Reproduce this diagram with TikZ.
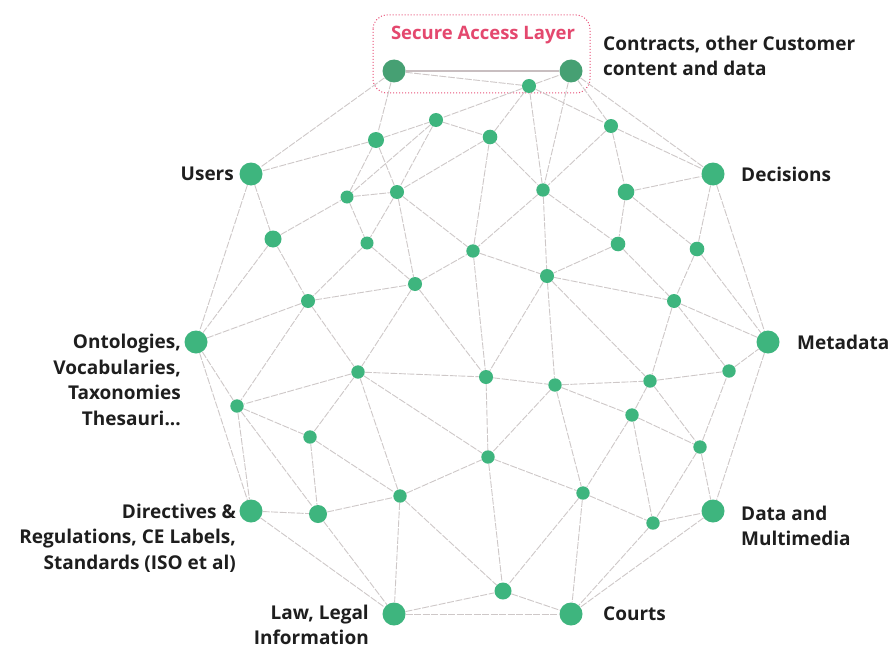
\documentclass[tikz,border=0pt]{standalone}
\usepackage{fontspec}
\setmainfont{Open Sans}
\definecolor{dotgreen}{RGB}{62,181,126}
\definecolor{salgreen}{RGB}{70,160,115}
\definecolor{edgegray}{RGB}{206,200,200}
\definecolor{solidgray}{RGB}{200,190,192}
\definecolor{boxpink}{RGB}{232,80,120}
\definecolor{salpink}{RGB}{228,72,110}
\definecolor{lbltext}{RGB}{30,30,30}
\begin{document}
\begin{tikzpicture}[x=1pt,y=-1pt,
  dot/.style={circle,fill=dotgreen,draw=none,inner sep=0pt},
  saldot/.style={circle,fill=salgreen,draw=none,inner sep=0pt},
  edge/.style={draw=edgegray,line width=0.9pt,dash pattern=on 7pt off 1.5pt},
  solidedge/.style={draw=solidgray,line width=1.4pt},
  lbl/.style={font=\fontsize{19}{25.5}\selectfont\bfseries,text=lbltext,inner sep=0pt}
]
\useasboundingbox[fill=white] (0,0) rectangle (893,650);
% Secure access layer box
\draw[draw=boxpink,line width=1pt,dotted,rounded corners=14pt] (373,15) rectangle (590,93);
\node[font=\fontsize{18.5}{21}\selectfont\bfseries,text=salpink,inner sep=0pt] (sal) at (483,35) {Secure Access Layer};
% big nodes
\node[saldot,minimum size=23pt] (S1) at (394,71) {};
\node[saldot,minimum size=23pt] (S2) at (571,71) {};
\foreach \n/\x/\y in {Dec/713/174,Meta/768/342,DMM/713/511,Courts/571/614,Law/394/614,Dir/251/511,Onto/196/342,Users/251/174}
  \node[dot,minimum size=23pt] (\n) at (\x,\y) {};
% small nodes
\foreach \n/\x/\y/\r in {a1/529/86/7,a2/436/120/7,a3/376/140/8,a4/490/137/7.3,a5/611/126/7,
  a6/347/197/6.5,a7/397/192/7,a8/543/190/6.7,a9/626/192/8.3,a10/273/239/8.5,
  a11/367/243/6.5,a12/473/251/6.7,a13/618/244/7.3,a14/697/249/7.3,a15/308/301/7,
  a16/415/284/7,a17/547/276/7,a18/674/301/7,a19/358/372/6.7,a20/486/377/7,
  a21/555/385/6.7,a22/650/381/6.7,a23/729/371/6.7,a24/237/406/6.7,a25/310/437/6.7,
  a26/632/415/6.7,a27/700/447/6.7,a28/488/457/6.7,a29/400/496/6.7,a30/583/493/6.7,
  a31/653/523/6.7,a32/318/514/9,a33/503/591/8.5}
  \node[dot,minimum size=2*\r pt] (\n) at (\x,\y) {};
% edges
\draw[solidedge] (S1) -- (S2);
\foreach \a/\b in {S1/a1,a1/S2,S1/a3,S1/Users,S2/a8,S2/a5,S2/Dec,a1/a2,a1/a4,a1/a8,a1/a5,
  a3/a2,a3/Users,a3/a6,a3/a7,a2/a4,a2/a6,a2/a7,a4/a7,a4/a8,a4/a12,a5/a8,a5/a9,a5/Dec,
  Users/a10,Users/Onto,a10/a6,a10/Onto,a10/a15,a6/a7,a6/a11,a7/a11,a7/a16,a7/a12,a11/a16,
  a11/a15,a16/a12,a15/a16,a15/Onto,a15/a19,a16/a19,a16/a20,a19/a20,a19/a24,a15/a24,Onto/a24,
  a19/a29,a19/a25,a19/a28,a8/a12,a8/a17,a8/a13,a9/a13,a9/Dec,a9/a14,Dec/a14,Dec/Meta,
  a12/a17,a12/a20,a13/a17,a13/a18,a14/a18,a14/Meta,a17/a18,a17/a20,a17/a21,a17/a22,
  a18/Meta,a18/a22,a18/a23,a20/a21,a21/a22,a22/a23,a23/Meta,a22/a26,a21/a26,a21/a28,
  a24/a25,a24/Dir,a24/a32,Onto/Dir,a25/a32,a25/a29,a29/a28,a29/Law,a29/a33,Dir/a32,Dir/Law,
  a32/a29,a32/Law,Law/a33,Law/Courts,a20/a28,a21/a30,a26/a30,a26/a31,a26/a27,a22/a27,
  a27/a23,a27/DMM,Meta/DMM,a27/a31,a31/DMM,a31/Courts,DMM/Courts,a28/a30,a28/a33,a30/a33,
  a30/Courts,a33/Courts,a30/a31}
  \draw[edge] (\a) -- (\b);
% labels
\node[lbl,anchor=west,align=left] (lcon) at (603,56) {Contracts, other Customer\\content and data};
\node[lbl,anchor=east] (lusers) at (234,174) {Users};
\node[lbl,anchor=west] (ldec) at (741,174) {Decisions};
\node[lbl,anchor=west] (lmeta) at (797,342) {Metadata};
\node[lbl,anchor=east,align=right] (lonto) at (181,380) {Ontologies,\\Vocabularies,\\Taxonomies\\Thesauri...};
\node[lbl,anchor=east,align=right] (ldir) at (236,538) {Directives \&\\Regulations, CE Labels,\\Standards (ISO et al)};
\node[lbl,anchor=east,align=right] (llaw) at (369,625) {Law, Legal\\Information};
\node[lbl,anchor=west] (lcourts) at (603,614) {Courts};
\node[lbl,anchor=west,align=left] (ldmm) at (741,526) {Data and\\Multimedia};
\end{tikzpicture}
\end{document}
